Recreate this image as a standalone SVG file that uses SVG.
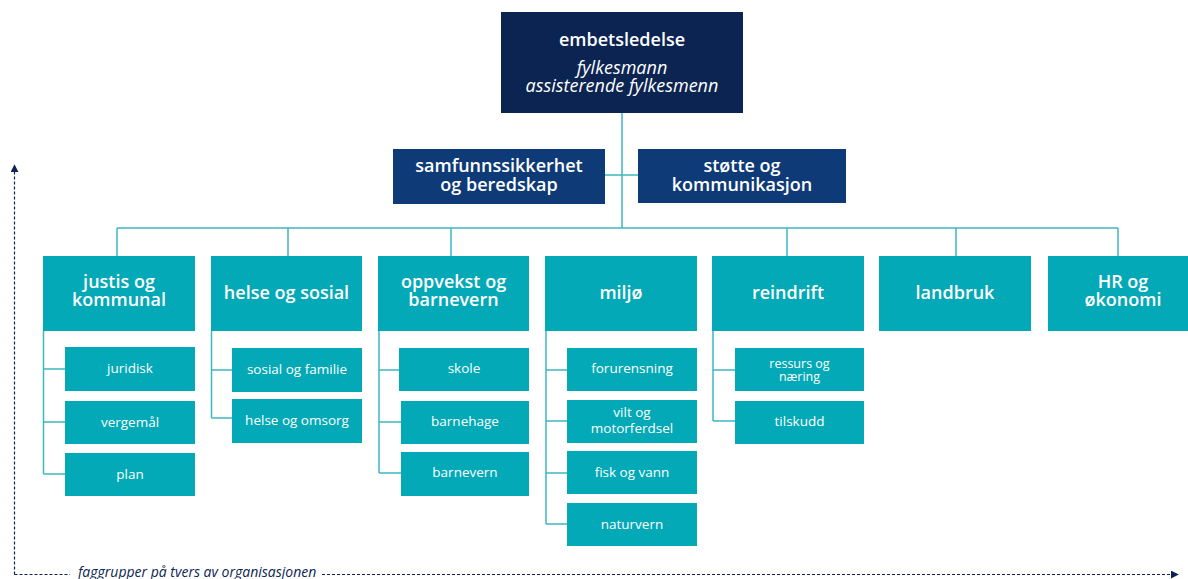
<svg xmlns="http://www.w3.org/2000/svg" width="1188" height="579" viewBox="0 0 1188 579">
<defs>
<style>
.top{fill:#0b2452}
.mid{fill:#0e3b77}
.main{fill:#03a9b6}
.sub{fill:#03a9b6}
.ln{fill:none;stroke:#3fb6c0;stroke-width:1.5}
.ax{fill:none;stroke:#0b2452;stroke-width:1.2;stroke-dasharray:3 2}
text{font-family:"Open Sans","Noto Sans","DejaVu Sans",sans-serif;fill:#ffffff;text-anchor:middle}
.b{font-weight:600;font-size:18px}
.t{font-weight:600;font-size:18px}
.i{font-style:italic;font-size:18px}
.s{font-size:13.5px}
.ss{font-size:12.5px}
.cap{font-style:italic;font-size:14px;fill:#0b2452;text-anchor:start}
</style>
<marker id="ah" viewBox="0 0 10 10" refX="9" refY="5" markerWidth="8" markerHeight="8" markerUnits="userSpaceOnUse" orient="auto">
<path d="M0,0 L10,5 L0,10 z" fill="#0b2452"/>
</marker>
</defs>
<rect width="1188" height="579" fill="#ffffff"/>

<g id="connectors">
<path class="ln" d="M622,113 V228 M605,175 H638 M117,228 H1118 M117,228 V256 M288,228 V256 M451,228 V256 M787,228 V256 M956,228 V256 M1118,228 V256"/>
<path class="ln" d="M43.5,331 V474 M43.5,369 H65 M43.5,422 H65 M43.5,474 H65"/>
<path class="ln" d="M211.5,331 V418 M211.5,370 H232 M211.5,418 H232"/>
<path class="ln" d="M379,331 V473 M379,370 H401 M379,422 H401 M379,473 H401"/>
<path class="ln" d="M546,331 V524 M546,370 H567 M546,421 H567 M546,473 H567 M546,524 H567"/>
<path class="ln" d="M713,331 V421 M713,370 H735 M713,421 H735"/>
</g>

<g id="axes">
<path class="ax" d="M14.5,574.5 V165" marker-end="url(#ah)"/>
<path class="ax" d="M14.5,574.5 H70"/>
<path class="ax" d="M322,574.5 H1178" marker-end="url(#ah)"/>
<text class="cap" x="78" y="577">faggrupper på tvers av organisasjonen</text>
</g>

<g id="embetsledelse">
<rect class="top" x="501" y="12" width="242" height="101"/>
<text class="b" x="622" y="46">embetsledelse</text>
<text class="i" x="622" y="74">fylkesmann</text>
<text class="i" x="622" y="92">assisterende fylkesmenn</text>
</g>

<g id="samfunnssikkerhet">
<rect class="mid" x="393" y="149" width="212" height="55"/>
<text class="b" x="499" y="172">samfunnssikkerhet</text>
<text class="b" x="499" y="191">og beredskap</text>
</g>

<g id="stotte">
<rect class="mid" x="638" y="149" width="208" height="54"/>
<text class="b" x="742" y="172">støtte og</text>
<text class="b" x="742" y="191">kommunikasjon</text>
</g>

<g id="justis">
<rect class="main" x="43" y="256" width="152" height="75"/>
<text class="t" x="119" y="288">justis og</text>
<text class="t" x="119" y="306">kommunal</text>
</g>
<g id="juridisk"><rect class="sub" x="65" y="347" width="130" height="44"/><text class="s" x="130" y="373">juridisk</text></g>
<g id="vergemal"><rect class="sub" x="65" y="401" width="130" height="43"/><text class="s" x="130" y="427">vergemål</text></g>
<g id="plan"><rect class="sub" x="65" y="453" width="130" height="43"/><text class="s" x="130" y="479">plan</text></g>

<g id="helse">
<rect class="main" x="211" y="256" width="151" height="75"/>
<text class="t" x="286.5" y="299">helse og sosial</text>
</g>
<g id="sosial"><rect class="sub" x="232" y="348" width="130" height="44"/><text class="s" x="297" y="374">sosial og familie</text></g>
<g id="omsorg"><rect class="sub" x="232" y="399" width="130" height="44"/><text class="s" x="297" y="425">helse og omsorg</text></g>

<g id="oppvekst">
<rect class="main" x="378" y="256" width="151" height="75"/>
<text class="t" x="453.5" y="288">oppvekst og</text>
<text class="t" x="453.5" y="306">barnevern</text>
</g>
<g id="skole"><rect class="sub" x="399" y="348" width="130" height="43"/><text class="s" x="464" y="373">skole</text></g>
<g id="barnehage"><rect class="sub" x="401" y="401" width="128" height="43"/><text class="s" x="465" y="426">barnehage</text></g>
<g id="barnevern"><rect class="sub" x="401" y="452" width="128" height="44"/><text class="s" x="465" y="477">barnevern</text></g>

<g id="miljo">
<rect class="main" x="545" y="256" width="152" height="75"/>
<text class="t" x="621" y="299">miljø</text>
</g>
<g id="forurensning"><rect class="sub" x="567" y="348" width="130" height="43"/><text class="s" x="632" y="373">forurensning</text></g>
<g id="vilt"><rect class="sub" x="567" y="400" width="130" height="43"/><text class="s" x="632" y="417">vilt og</text><text class="s" x="632" y="433">motorferdsel</text></g>
<g id="fisk"><rect class="sub" x="567" y="451" width="130" height="43"/><text class="s" x="632" y="477">fisk og vann</text></g>
<g id="naturvern"><rect class="sub" x="567" y="503" width="130" height="43"/><text class="s" x="632" y="529">naturvern</text></g>

<g id="reindrift">
<rect class="main" x="712" y="256" width="152" height="75"/>
<text class="t" x="788" y="299">reindrift</text>
</g>
<g id="ressurs"><rect class="sub" x="735" y="348" width="129" height="43"/><text class="ss" x="799.5" y="368">ressurs og</text><text class="ss" x="799.5" y="381">næring</text></g>
<g id="tilskudd"><rect class="sub" x="735" y="401" width="129" height="43"/><text class="s" x="799.5" y="426">tilskudd</text></g>

<g id="landbruk">
<rect class="main" x="879" y="256" width="152" height="75"/>
<text class="t" x="955" y="299">landbruk</text>
</g>

<g id="hr">
<rect class="main" x="1048" y="256" width="152" height="75"/>
<text class="t" x="1123" y="288">HR og</text>
<text class="t" x="1123" y="306">økonomi</text>
</g>
</svg>
